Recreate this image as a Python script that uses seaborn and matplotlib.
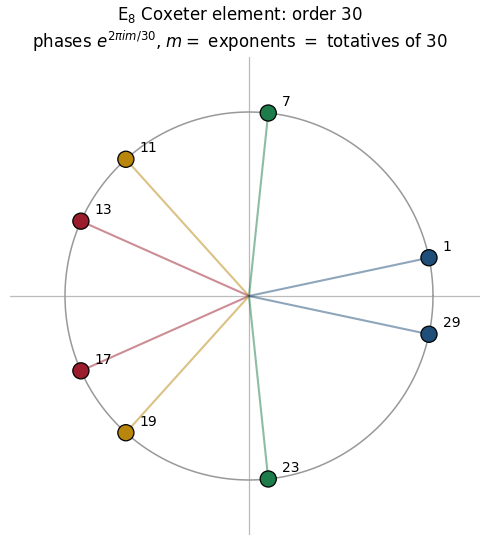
import numpy as np
import pandas as pd
import matplotlib
matplotlib.use("Agg")
import matplotlib.pyplot as plt
import seaborn as sns

# Exponents of E8 (totatives of the Coxeter number 30)
exponents = [1, 7, 11, 13, 17, 19, 23, 29]
coxeter_number = 30
# conjugate pairs m <-> 30 - m share a colour
pair_of = ["1/29", "7/23", "11/19", "13/17", "13/17", "11/19", "7/23", "1/29"]
pair_colors = {"1/29": "#1f4e79", "7/23": "#1e7b4a", "11/19": "#b8860b", "13/17": "#9b1c2c"}

sns.set_style("white")
plt.rcParams["text.color"] = "black"

angles = 2 * np.pi * np.array(exponents) / coxeter_number
df = pd.DataFrame({
    "m": exponents,
    "x": np.cos(angles),
    "y": np.sin(angles),
    "pair": pair_of,
})

fig = plt.figure(figsize=(4.8, 5.35), dpi=100)
ax = fig.add_axes([10 / 480, 0, 470 / 480, 478 / 535])

# reference axes
ax.axhline(0, color="#bbbbbb", lw=0.9, zorder=0)
ax.axvline(0, color="#bbbbbb", lw=0.9, zorder=0)

# unit circle
t = np.linspace(0, 2 * np.pi, 400)
ax.plot(np.cos(t), np.sin(t), color="#999999", lw=1.1, zorder=1)

# spokes from the origin
for _, r in df.iterrows():
    ax.plot([0, r.x], [0, r.y], color=pair_colors[r.pair], alpha=0.5, lw=1.5, zorder=2)

sns.scatterplot(data=df, x="x", y="y", hue="pair", palette=pair_colors,
                s=135, edgecolor="black", linewidth=0.9, legend=False, zorder=3, ax=ax)

for _, r in df.iterrows():
    ax.annotate(str(r.m), (r.x, r.y), xytext=(10, 3), textcoords="offset points",
                ha="left", va="bottom", fontsize=10, color="black")

ax.set_xlim(-239 / 184, 231 / 184)
ax.set_ylim(-1.299, 1.299)
ax.set_axis_off()

fig.suptitle("E$_8$ Coxeter element: order 30\n"
             "phases $e^{2\\pi i m/30}$, $m=$ exponents $=$ totatives of 30",
             fontsize=12, y=0.993, color="black")

fig.savefig("out.png", dpi=100)
